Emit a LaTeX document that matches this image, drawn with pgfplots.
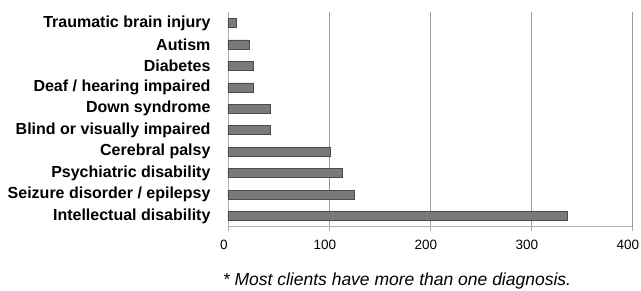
\documentclass[border=0pt]{standalone}
\usepackage{pgfplots}
\pgfplotsset{compat=1.18}
\usepackage{fontspec}
\setmainfont{Liberation Sans}
\definecolor{barfill}{HTML}{7A7A7A}
\definecolor{baredge}{HTML}{4A4A4A}
\definecolor{gridc}{HTML}{9A9A9A}
\definecolor{axc}{HTML}{B0B0B0}
\begin{document}
\begin{tikzpicture}[x=1pt,y=1pt]
\path[use as bounding box] (0,0) rectangle (641,291);
\begin{axis}[
  at={(228pt,64.3pt)}, anchor=south west,
  scale only axis, width=404pt, height=214.4pt,
  xmin=0, xmax=400, ymin=-0.5, ymax=9.5,
  xtick={0,100,200,300,400},
  ytick={0,...,9},
  yticklabels={Intellectual disability,Seizure disorder / epilepsy,Psychiatric disability,Cerebral palsy,Blind or visually impaired,Down syndrome,Deaf / hearing impaired,Diabetes,Autism,Traumatic brain injury},
  yticklabel style={font=\bfseries\fontsize{16}{18}\selectfont, xshift=-10pt},
  xticklabel style={font=\fontsize{13.5}{16}\selectfont, yshift=-6pt, xshift=-4pt},
  /pgf/number format/assume math mode=true,
  major y tick style={draw=none},
  extra y ticks={-0.5,0.5,...,9.5},
  extra y tick labels={},
  extra y tick style={major tick length=4pt, tick style={draw=axc}, tick pos=left, tick align=outside},
  x tick style={draw=axc},
  major tick length=4pt,
  tick pos=left, tick align=outside,
  xmajorgrids, grid style={draw=gridc, line width=0.8pt},
  axis x line*=bottom, axis y line*=left,
  axis line style={draw=axc, line width=0.6pt},
  x axis line style={-}, y axis line style={-},
  xbar, bar width=9pt,
  clip=false,
]
\addplot[fill=barfill, draw=baredge, line width=0.6pt] coordinates {
(336,0) (125,1) (113,2) (101,3) (42,4) (42,5) (25,6) (25,7) (21,8) (8,9)};
\end{axis}
\node[font=\itshape\fontsize{17.5}{20}\selectfont] at (397,10) {* Most clients have more than one diagnosis.};
\end{tikzpicture}
\end{document}
